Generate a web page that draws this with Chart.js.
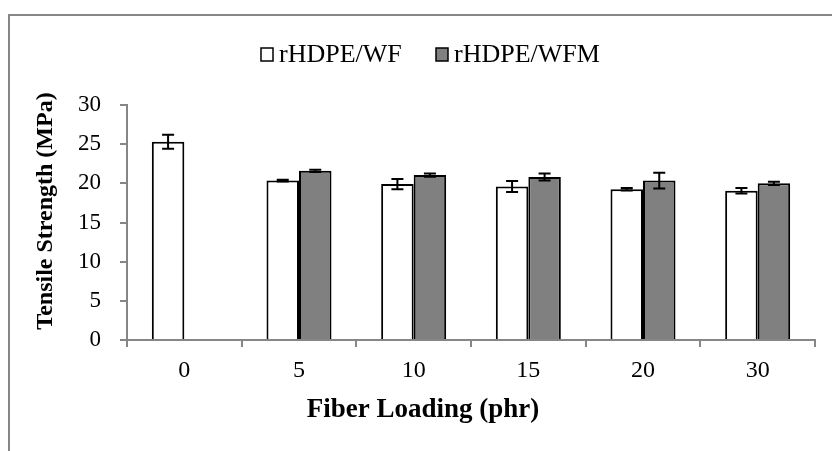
<!DOCTYPE html>
<html>
<head>
<meta charset="utf-8">
<script src="https://cdn.jsdelivr.net/npm/chart.js@4/dist/chart.umd.min.js"></script>
<style>
  html, body { margin: 0; padding: 0; background: #fff; }
  #chart { display: block; }
</style>
</head>
<body>
<canvas id="chart" width="832" height="451"></canvas>
<script>
// --- Data ---
const categories = ['0', '5', '10', '15', '20', '30'];
const seriesNames = ['rHDPE/WF', 'rHDPE/WFM'];
const wfValues = [25.3, 20.35, 19.9, 19.6, 19.25, 19.05];
const wfmValues = [null, 21.6, 21.05, 20.8, 20.35, 20.0];
const wfErrors = [0.9, 0.1, 0.65, 0.7, 0.15, 0.35];
const wfmErrors = [null, 0.15, 0.2, 0.45, 1.0, 0.2];
const yTicks = [0, 5, 10, 15, 20, 25, 30];

const axisGrey = '#868686';
const serif = '"Liberation Serif", "Times New Roman", serif';

// white page + the grey frame around the whole figure
const framePlugin = {
    id: 'frame',
    beforeDraw: (chart) => {
        const ctx = chart.ctx;
        ctx.save();
        ctx.fillStyle = '#fff';
        ctx.fillRect(0, 0, chart.width, chart.height);
        ctx.strokeStyle = axisGrey;
        ctx.lineWidth = 2;
        ctx.beginPath();
        ctx.moveTo(9, chart.height);
        ctx.lineTo(9, 15);
        ctx.lineTo(chart.width, 15);
        ctx.stroke();
        ctx.restore();
    }
};

// error bars from the error arrays, positioned with the chart's own scales
const errorBarPlugin = {
    id: 'errorBars',
    afterDatasetsDraw: (chart) => {
        const ctx = chart.ctx;
        const yScale = chart.scales.y;
        const errs = [wfErrors, wfmErrors];
        ctx.save();
        ctx.strokeStyle = '#000';
        ctx.lineWidth = 2;
        chart.data.datasets.forEach((ds, di) => {
            const meta = chart.getDatasetMeta(di);
            meta.data.forEach((bar, i) => {
                const v = ds.data[i];
                const e = errs[di][i];
                if (v == null || e == null) return;
                const yTop = yScale.getPixelForValue(v + e);
                const yBot = yScale.getPixelForValue(v - e);
                const x = bar.x;
                ctx.beginPath();
                ctx.moveTo(x, yTop); ctx.lineTo(x, yBot);
                ctx.moveTo(x - 6, yTop); ctx.lineTo(x + 6, yTop);
                ctx.moveTo(x - 6, yBot); ctx.lineTo(x + 6, yBot);
                ctx.stroke();
            });
        });
        ctx.restore();
    }
};

// legend + axis titles, placed like the original figure
const labelsPlugin = {
    id: 'labels',
    afterDraw: (chart) => {
        const ctx = chart.ctx;
        ctx.save();

        // legend
        const legendX = [261, 436];
        chart.data.datasets.forEach((ds, di) => {
            ctx.fillStyle = ds.backgroundColor;
            ctx.fillRect(legendX[di], 48, 12, 13);
            ctx.strokeStyle = '#000';
            ctx.lineWidth = 1.5;
            ctx.strokeRect(legendX[di], 48, 12, 13);
            ctx.fillStyle = '#000';
            ctx.font = '26px ' + serif;
            ctx.textAlign = 'left';
            ctx.textBaseline = 'alphabetic';
            ctx.fillText(ds.label, legendX[di] + 18, 62);
        });

        // x title
        ctx.font = 'bold 27px ' + serif;
        ctx.textAlign = 'center';
        ctx.textBaseline = 'alphabetic';
        ctx.fillText('Fiber Loading (phr)', 423, 417);

        // y title
        ctx.translate(52, 211);
        ctx.rotate(-Math.PI / 2);
        ctx.font = 'bold 24px ' + serif;
        ctx.fillText('Tensile Strength (MPa)', 0, 0);
        ctx.restore();
    }
};

const ctx = document.getElementById('chart').getContext('2d');
new Chart(ctx, {
    type: 'bar',
    data: {
        labels: categories,
        datasets: [
            {
                label: seriesNames[0],
                data: wfValues,
                backgroundColor: '#ffffff',
                borderColor: '#000000',
                borderWidth: 2,
                borderSkipped: 'start'
            },
            {
                label: seriesNames[1],
                data: wfmValues,
                backgroundColor: '#808080',
                borderColor: '#000000',
                borderWidth: 2,
                borderSkipped: 'start'
            }
        ]
    },
    options: {
        responsive: false,
        animation: false,
        devicePixelRatio: 1,
        layout: { padding: { top: 105, left: 0, right: 17, bottom: 0 } },
        datasets: {
            bar: { barPercentage: 1, categoryPercentage: 0.567 }
        },
        plugins: {
            legend: { display: false },
            tooltip: { enabled: false }
        },
        scales: {
            x: {
                afterFit: (scale) => { scale.height = 111; },
                grid: {
                    drawOnChartArea: false,
                    drawTicks: true,
                    tickLength: 7,
                    color: axisGrey,
                    lineWidth: 2,
                    offset: true
                },
                border: { display: true, color: axisGrey, width: 2 },
                ticks: {
                    color: '#000',
                    font: { family: serif, size: 24 },
                    padding: 9
                }
            },
            y: {
                min: 0,
                max: 30,
                afterFit: (scale) => { scale.width = 127; },
                afterBuildTicks: (scale) => {
                    scale.ticks = yTicks.map(v => ({ value: v }));
                },
                grid: {
                    drawOnChartArea: false,
                    drawTicks: true,
                    tickLength: 7,
                    color: axisGrey,
                    lineWidth: 2
                },
                border: { display: true, color: axisGrey, width: 2 },
                ticks: {
                    color: '#000',
                    font: { family: serif, size: 23 },
                    padding: 19
                }
            }
        }
    },
    plugins: [framePlugin, errorBarPlugin, labelsPlugin]
});
</script>
</body>
</html>
